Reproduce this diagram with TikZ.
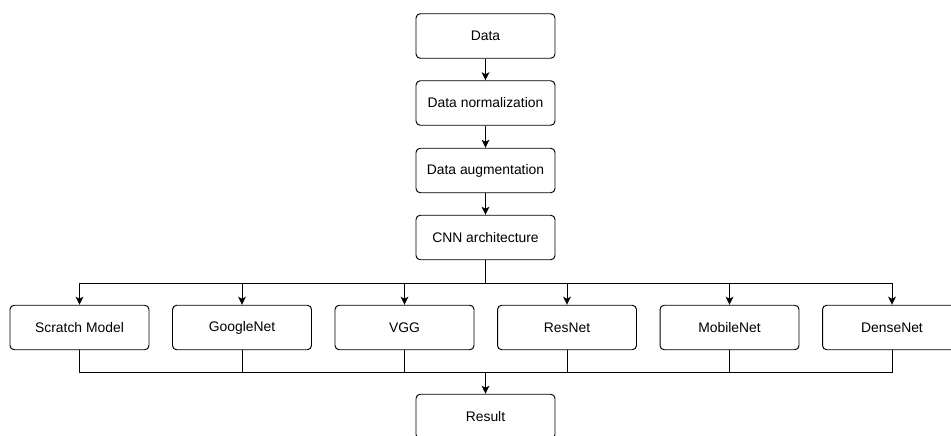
\documentclass[tikz,border=0pt]{standalone}
\usepackage{fontspec}
\setmainfont{Liberation Sans}
\usetikzlibrary{arrows.meta}

\begin{document}
\begin{tikzpicture}[x=0.02cm, y=-0.02cm, >={Stealth[length=4.6pt,width=4.4pt,inset=1.2pt]},
	stage/.style={draw, line width=0.55pt, rounded corners=2.4pt, minimum width=2.78cm, minimum height=0.89cm, inner sep=0pt, font=\fontsize{7.9}{9}\selectfont},
	link/.style={line width=0.55pt}]
	
	% Fix the page to the picture size
	\useasboundingbox (0,0) rectangle (951,436);
	\clip (0,0) rectangle (951,436);
	
	% Draw the preprocessing chain
	\node[stage] (data) at (485.5,36) {Data};
	\node[stage] (norm) at (485.5,103) {Data normalization};
	\node[stage] (aug) at (485.5,170.5) {Data augmentation};
	\node[stage] (cnn) at (485.5,237.5) {CNN architecture};
	\node[stage] (result) at (485.5,416.5) {Result};
	
	\draw[link,->] (data) -- (norm);
	\draw[link,->] (norm) -- (aug);
	\draw[link,->] (aug) -- (cnn);
	
	% Split and merge points of the model row
	\coordinate (split) at (485.5,283);
	\coordinate (merge) at (485.5,372);
	\draw[link] (cnn) -- (split);
	\draw[link,->] (merge) -- (result);
	
	% Draw the models, each fed from the split and joined at the merge
	\foreach \nm/\x/\lbl in {scratch/79.5/Scratch Model, google/242/GoogleNet, vgg/404.5/VGG, res/567/ResNet, mobile/729.5/MobileNet, dense/892/DenseNet}{
		\node[stage] (\nm) at (\x,327.5) {\lbl};
		\draw[link,->] (split) -| (\nm.north);
		\draw[link] (\nm.south) |- (merge);
	}
	
\end{tikzpicture}
\end{document}
